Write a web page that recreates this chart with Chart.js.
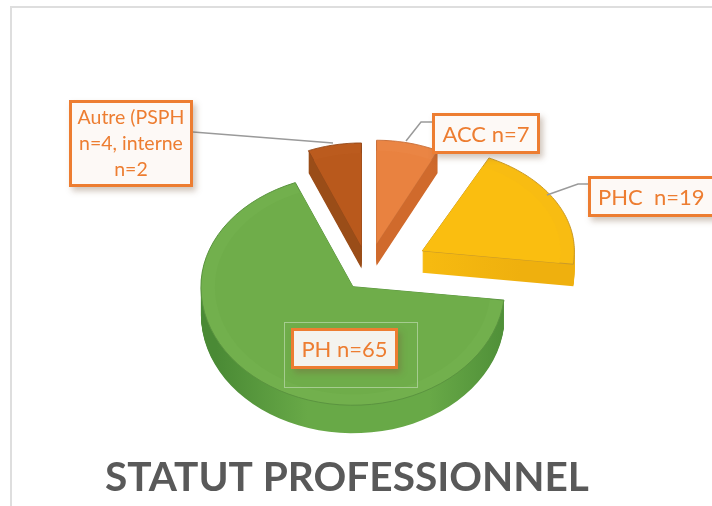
<!DOCTYPE html>
<html lang="fr">
<head>
<meta charset="utf-8">
<title>Statut professionnel</title>
<script src="https://cdn.jsdelivr.net/npm/chart.js@4"></script>
<style>
  html, body { margin: 0; padding: 0; width: 712px; height: 506px; background: #fff; overflow: hidden; }
  #cadre { position: absolute; left: 10px; top: 6px; right: 0; bottom: 0; border-top: 2px solid #dedede; border-left: 2px solid #dedede; }
  #grafico { position: absolute; left: 0; top: 0; }
  .etiqueta {
    position: absolute; box-sizing: border-box; border: 3px solid #ed7d31; background: #fdf9f6;
    color: #ed7d31; font: 22px/35px Lato, sans-serif; text-align: center; white-space: pre-wrap;
    box-shadow: 3px 4px 6px rgba(120, 90, 60, .35);
  }
  #marco-ph { position: absolute; left: 284px; top: 322px; width: 132px; height: 64px; border: 1px solid #a5cc8f; }
</style>
</head>
<body>
<div id="cadre"></div>
<canvas id="grafico" width="712" height="506"></canvas>
<div id="marco-ph"></div>
<div class="etiqueta" id="e0" style="left:432px;top:113px;width:108px;height:41px"></div>
<div class="etiqueta" id="e1" style="left:588px;top:176px;width:130px;height:41px;text-align:left;padding-left:7px"></div>
<div class="etiqueta" id="e2" style="left:291px;top:328px;width:107px;height:41px;background:#f4f3ee"></div>
<div class="etiqueta" id="e3" style="left:69px;top:100px;width:124px;height:87px;font-size:19.5px;line-height:26px;padding-top:1px"></div>
<script>
const categorias = ["ACC", "PHC", "PH", "Autre"];
const valores = [7, 19, 65, 6];
const etiquetas = ["ACC n=7", "PHC  n=19", "PH n=65", "Autre (PSPH\nn=4, interne\nn=2"];
const titulo = "STATUT PROFESSIONNEL";

// estilos de cada porción
const colores = ["#e98240", "#fabe10", "#6fad4a", "#b9591c"];
const coloresBisel = ["#ea8544", "#f8bc12", "#72b04d", "#bb5b1e"];
const ladoBorde = ["#b9602a", "#efb00e", "#4a8a35", "#7a3d12"];
const ladoCentro = ["#d06a2c", "#f6ba10", "#68a947", "#9a4d18"];
const bordes = ["#c9703a", "#c99a2a", "#5b9440", "#94491a"];
const separacion = [38, 62, 25, 34];
const profundidad = [22, 22, 28, 22];
const escalaRadio = [0.92, 1, 1, 0.92];
const aplastadoLejos = [0.74, 0.68, 0.74, 0.74];
const APLASTADO_CERCA = 0.78;
const RADIO = 152;

etiquetas.forEach((t, i) => {
  document.getElementById("e" + i).textContent = t;
});

// La mitad de atrás del pastel se ve más aplastada que la de delante
function trazarPorcion(ctx, arc, i, radio, bajada) {
  const { x, y, startAngle, endAngle } = arc.getProps(["x", "y", "startAngle", "endAngle"], true);
  const aplastar = a => (Math.sin(a) < 0 ? aplastadoLejos[i] : APLASTADO_CERCA);
  const medio = (startAngle + endAngle) / 2;
  const cx = x + Math.cos(medio) * arc.options.offset;
  const cy = y + Math.sin(medio) * arc.options.offset * aplastar(medio) + bajada;
  ctx.beginPath();
  ctx.moveTo(cx, cy);
  const pasos = 60;
  for (let p = 0; p <= pasos; p++) {
    const a = startAngle + (endAngle - startAngle) * p / pasos;
    ctx.lineTo(cx + Math.cos(a) * radio, cy + Math.sin(a) * radio * aplastar(a));
  }
  ctx.closePath();
}

const pastel3d = {
  id: "pastel3d",
  beforeDatasetsDraw(chart) {
    const { ctx } = chart;
    const arcos = chart.getDatasetMeta(0).data;
    arcos.forEach((arc, i) => {
      const { x, outerRadius } = arc.getProps(["x", "outerRadius"], true);
      const radio = outerRadius * escalaRadio[i];
      const lado = ctx.createLinearGradient(x - RADIO, 0, x + RADIO, 0);
      lado.addColorStop(0, ladoBorde[i]);
      lado.addColorStop(0.3, ladoCentro[i]);
      lado.addColorStop(0.7, ladoCentro[i]);
      lado.addColorStop(1, ladoBorde[i]);
      for (let d = profundidad[i]; d > 0; d--) {
        trazarPorcion(ctx, arc, i, radio, d);
        ctx.fillStyle = lado;
        ctx.fill();
      }
      trazarPorcion(ctx, arc, i, radio, 0);
      ctx.fillStyle = coloresBisel[i];
      ctx.fill();
      ctx.strokeStyle = bordes[i];
      ctx.lineWidth = 1;
      ctx.stroke();
      trazarPorcion(ctx, arc, i, radio - 14, 0);
      ctx.fillStyle = colores[i];
      ctx.fill();
    });
    return false;
  },
  afterDraw(chart) {
    // líneas guía hacia las etiquetas
    const { ctx } = chart;
    const guias = [
      [[432, 122], [421, 122], [406, 141]],
      [[588, 184], [578, 184], [547, 195]],
      [[193, 132], [333, 143]]
    ];
    ctx.save();
    ctx.strokeStyle = "#9a9a9a";
    ctx.lineWidth = 1.5;
    guias.forEach(g => {
      ctx.beginPath();
      g.forEach(([px, py], j) => (j ? ctx.lineTo(px, py) : ctx.moveTo(px, py)));
      ctx.stroke();
    });
    ctx.restore();
  }
};

new Chart(document.getElementById("grafico"), {
  type: "pie",
  data: {
    labels: categorias,
    datasets: [{ data: valores, backgroundColor: colores, offset: separacion, borderWidth: 0 }]
  },
  options: {
    responsive: false,
    animation: false,
    radius: RADIO,
    layout: { padding: { left: 105, right: 81, top: 89, bottom: 0 } },
    plugins: {
      legend: { display: false },
      tooltip: { enabled: false },
      title: {
        display: true,
        text: titulo,
        position: "bottom",
        align: "start",
        color: "#595959",
        font: { family: "Lato", size: 40.6, weight: "bold" },
        padding: { top: 0, bottom: 4 }
      }
    }
  },
  plugins: [pastel3d]
});
</script>
</body>
</html>
